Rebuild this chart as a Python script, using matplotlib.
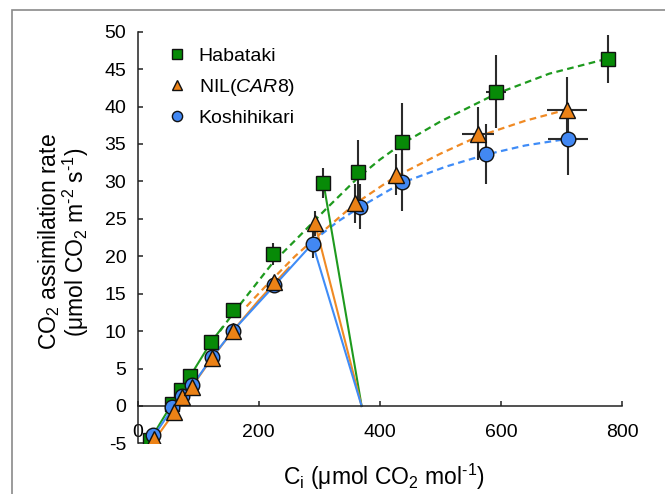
import matplotlib
matplotlib.use("Agg")
import matplotlib.pyplot as plt
from matplotlib.patches import Rectangle

plt.rcParams["font.family"] = ["Liberation Sans", "DejaVu Sans"]
plt.rcParams["mathtext.fontset"] = "custom"
plt.rcParams["mathtext.rm"] = "Liberation Sans"
plt.rcParams["mathtext.it"] = "Liberation Sans:italic"
plt.rcParams["axes.unicode_minus"] = False

# measured points (Ci, A) with error bars
hab_x = [20, 57, 72, 87, 122, 157, 224, 307, 364, 437, 592, 776]
hab_y = [-4.6, 0.3, 2.2, 4.0, 8.6, 12.8, 20.3, 29.8, 31.3, 35.3, 42.0, 46.4]
hab_yerr = [0, 0, 0, 0, 0, 0, 1.5, 2.0, 4.3, 5.2, 4.9, 3.2]
hab_xerr = [0, 0, 0, 0, 0, 0, 0, 0, 4, 5, 16, 7]

nil_x = [28, 61, 74, 90, 123, 157, 225, 293, 359, 426, 562, 709]
nil_y = [-4.4, -0.8, 1.2, 2.6, 6.4, 10.0, 16.5, 24.4, 27.1, 30.9, 36.4, 39.5]
nil_yerr = [0, 0, 0, 0, 0, 0, 0.8, 1.7, 2.6, 2.7, 3.6, 4.4]
nil_xerr = [0, 0, 0, 0, 0, 0, 0, 0, 0, 5, 26, 33]

kos_x = [25, 57, 74, 90, 123, 157, 225, 289, 368, 437, 576, 711]
kos_y = [-3.9, -0.2, 1.3, 2.8, 6.5, 10.0, 16.1, 21.7, 26.6, 29.9, 33.7, 35.7]
kos_yerr = [0, 0, 0, 0, 0, 0, 0.6, 1.9, 3.0, 3.9, 4.0, 4.8]
kos_xerr = [0, 0, 0, 0, 0, 0, 0, 0, 0, 0, 13, 33]

# fitted curves (solid: low Ci, dashed: high Ci)
hab_solid_x = [18, 57, 72, 87, 122, 140]
hab_solid_y = [-4.9, 0.3, 2.2, 4.0, 8.6, 10.5]
hab_dash_x = [125, 160, 190, 224, 260, 311, 364, 400, 436, 500, 592, 680, 776]
hab_dash_y = [8.8, 12.6, 15.7, 19.2, 22.1, 26.3, 30.5, 32.9, 35.0, 38.0, 41.7, 44.4, 46.4]

nil_solid_x = [25, 61, 90, 123, 157, 200, 250]
nil_solid_y = [-4.9, -0.8, 2.6, 6.4, 10.0, 14.1, 18.5]
nil_dash_x = [180, 215, 260, 300, 359, 425, 500, 562, 640, 709]
nil_dash_y = [13.3, 16.3, 20.0, 22.9, 27.0, 30.6, 33.7, 36.0, 38.1, 39.6]

kos_solid_x = [22, 57, 90, 123, 157, 225, 289]
kos_solid_y = [-4.6, -0.4, 2.7, 6.5, 10.0, 16.0, 21.7]
kos_dash_x = [289, 330, 368, 436, 510, 576, 640, 711]
kos_dash_y = [22.0, 24.6, 26.6, 29.8, 32.0, 33.6, 34.8, 35.7]

# supply lines from ambient Ci to the operating point
ca = 370
hab_op = (307, 29.8)
nil_op = (293, 24.4)
kos_op = (289, 21.7)

green = "#078a07"
orange = "#ec8216"
blue = "#4288f3"
green_ln = "#1e9a1e"
orange_ln = "#f08a24"
blue_ln = "#3f8cf7"

fig = plt.figure(figsize=(6.65, 4.94), dpi=100)
ax = fig.add_axes([0.2068, 0.1024, 0.7286, 0.8334])

dash = (0, (3, 2))
ax.plot(hab_solid_x, hab_solid_y, color=green_ln, lw=1.5, zorder=1)
ax.plot(nil_solid_x, nil_solid_y, color=orange_ln, lw=1.5, zorder=1)
ax.plot(kos_solid_x, kos_solid_y, color=blue_ln, lw=1.5, zorder=1)
ax.plot(hab_dash_x, hab_dash_y, color=green_ln, lw=1.6, ls=dash, zorder=1)
ax.plot(nil_dash_x, nil_dash_y, color=orange_ln, lw=1.6, ls=dash, zorder=1)
ax.plot(kos_dash_x, kos_dash_y, color=blue_ln, lw=1.6, ls=dash, zorder=1)

ax.plot([hab_op[0], ca], [hab_op[1], 0], color=green_ln, lw=1.5, zorder=1)
ax.plot([nil_op[0], ca], [nil_op[1], 0], color=orange_ln, lw=1.5, zorder=1)
ax.plot([kos_op[0], ca], [kos_op[1], 0], color=blue_ln, lw=1.5, zorder=1)

for x, y, xe, ye in [(hab_x, hab_y, hab_xerr, hab_yerr),
                     (nil_x, nil_y, nil_xerr, nil_yerr),
                     (kos_x, kos_y, kos_xerr, kos_yerr)]:
    ax.errorbar(x, y, yerr=ye, xerr=xe, fmt="none", ecolor="#2b2b2b",
                elinewidth=1.5, capsize=0, zorder=3)

h1, = ax.plot(hab_x, hab_y, "s", ms=10, mfc=green, mec="#111111", mew=1.0,
              ls="none", zorder=4, label="Habataki")
h3, = ax.plot(kos_x, kos_y, "o", ms=10.5, mfc=blue, mec="#111111", mew=1.0,
              ls="none", zorder=5, label="Koshihikari")
h2, = ax.plot(nil_x, nil_y, "^", ms=11, mfc=orange, mec="#111111", mew=1.0,
              ls="none", zorder=6, label="NIL($\\mathit{CAR}$8)")

ax.legend(handles=[h1, h2, h3], loc="upper left", bbox_to_anchor=(0.05, 0.982),
          frameon=False, fontsize=14, markerscale=0.7, handlelength=0.8,
          handletextpad=0.7, labelspacing=0.62, borderaxespad=0)

ax.set_xlim(0, 800)
ax.set_ylim(-5, 50)
ax.set_xticks([0, 200, 400, 600, 800])
ax.set_yticks(range(-5, 51, 5))
ax.spines["top"].set_visible(False)
ax.spines["right"].set_visible(False)
ax.spines["bottom"].set_position(("data", 0))
for s in ("left", "bottom"):
    ax.spines[s].set_linewidth(1.1)
    ax.spines[s].set_color("#222222")
ax.tick_params(axis="both", direction="in", length=3.5, width=1.1,
               color="#222222", labelsize=14)
ax.tick_params(axis="x", pad=13)
ax.tick_params(axis="y", pad=8)

ax.set_xlabel("C$_{\\mathrm{i}}$ (μmol CO$_2$ mol$^{\\text{-}1}$)", fontsize=16.5)
ax.xaxis.set_label_coords(0.509, -0.045)
ax.set_ylabel("CO$_2$ assimilation rate\n(μmol CO$_2$ m$^{\\text{-}2}$ s$^{\\text{-}1}$)",
              fontsize=16.5, linespacing=0.95)
ax.yaxis.set_label_coords(-0.096, 0.49)

fig.add_artist(Rectangle((12 / 665, -0.1), 1.2, 1.1 - 10 / 494, fill=False,
                         edgecolor="#8a8a8a", lw=1.2,
                         transform=fig.transFigure, clip_on=False))

fig.savefig("out.png", dpi=100)
